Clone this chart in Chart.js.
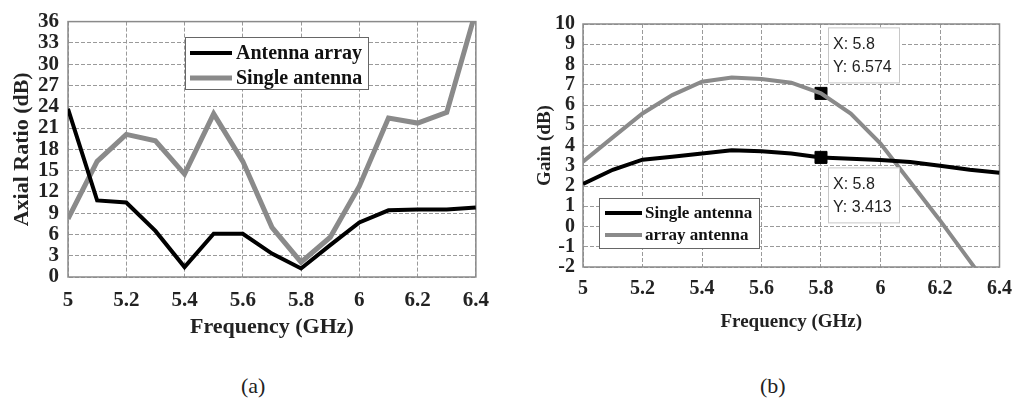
<!DOCTYPE html>
<html>
<head>
<meta charset="utf-8">
<script src="https://cdn.jsdelivr.net/npm/chart.js@4.4.1/dist/chart.umd.min.js"></script>
<style>
    body { margin: 0; background: #fff; width: 1022px; height: 398px; position: relative; overflow: hidden; }
    #wrapA { position: absolute; left: 0; top: 0; width: 500px; height: 345px; }
    #wrapB { position: absolute; left: 510px; top: 0; width: 512px; height: 345px; }
    .cap { position: absolute; top: 373px; line-height: 24px; font: 22px "Liberation Serif", serif; color: #222; }
</style>
</head>
<body>
<div id="wrapA"><canvas id="chartA"></canvas></div>
<div id="wrapB"><canvas id="chartB"></canvas></div>
<div class="cap" style="left:241px">(a)</div>
<div class="cap" style="left:760px">(b)</div>

<script>
// Frequency points (GHz)
const freqs = [5.0, 5.1, 5.2, 5.3, 5.4, 5.5, 5.6, 5.7, 5.8, 5.9, 6.0, 6.1, 6.2, 6.3, 6.4];

// (a) Axial ratio (dB)
const arArray  = [23.7, 10.8, 10.5, 6.5, 1.4, 6.1, 6.1, 3.3, 1.2, 4.5, 7.7, 9.4, 9.5, 9.5, 9.8];
const arSingle = [8.2, 16.3, 20.1, 19.2, 14.5, 23.0, 16.3, 7.0, 2.1, 5.6, 12.8, 22.4, 21.7, 23.2, 37.5];

// (b) Gain (dB)
const gainSingle = [2.1, 2.8, 3.3, 3.44, 3.6, 3.77, 3.72, 3.6, 3.413, 3.35, 3.28, 3.19, 3.0, 2.8, 2.65];
const gainArray  = [3.2, 4.4, 5.58, 6.49, 7.15, 7.36, 7.28, 7.1, 6.574, 5.58, 4.1, 2.2, 0.3, -1.7, -3.7];

// datatips on (b)
const tipFreq = 5.8;
const tipGains = [6.574, 3.413];

// tick values
const xTicks = [5, 5.2, 5.4, 5.6, 5.8, 6, 6.2, 6.4];
const arTicks = [0, 3, 6, 9, 12, 15, 18, 21, 24, 27, 30, 33, 36];
const gainTicks = [-2, -1, 0, 1, 2, 3, 4, 5, 6, 7, 8, 9, 10];

const serif = '"Liberation Serif", "Times New Roman", serif';
const sans = '"Liberation Sans", Arial, sans-serif';
const GRAY = '#8a8a8a';

const toXY = (ys) => freqs.map((f, i) => ({ x: f, y: ys[i] }));

// plot frame, drawn under the lines
const framePlugin = {
    id: 'frame',
    beforeDatasetsDraw(chart) {
        const { ctx, chartArea: a } = chart;
        ctx.save();
        ctx.strokeStyle = '#8a8a8a';
        ctx.lineWidth = 1.5;
        ctx.strokeRect(a.left, a.top, a.right - a.left, a.bottom - a.top);
        ctx.restore();
    }
};

function legendBox(box) {
    return {
        id: 'legendBox',
        afterDraw(chart) {
            const { ctx } = chart;
            ctx.save();
            ctx.fillStyle = '#fff';
            ctx.strokeStyle = '#666';
            ctx.lineWidth = 1;
            ctx.fillRect(box.x, box.y, box.w, box.h);
            ctx.strokeRect(box.x + 0.5, box.y + 0.5, box.w, box.h);
            chart.data.datasets.filter(d => !d.noLegend).forEach((ds, i) => {
                const y = box.y + box.rowTop + i * box.rowGap;
                ctx.strokeStyle = ds.borderColor;
                ctx.lineWidth = ds.borderWidth;
                ctx.beginPath();
                ctx.moveTo(box.x + box.line0, y);
                ctx.lineTo(box.x + box.line1, y);
                ctx.stroke();
                ctx.fillStyle = '#111';
                ctx.font = box.font;
                ctx.textBaseline = 'middle';
                ctx.fillText(ds.label, box.x + box.textX, y + 1);
            });
            ctx.restore();
        }
    };
}

// MATLAB-like datatips on (b)
const tipPlugin = {
    id: 'tips',
    afterDraw(chart) {
        const { ctx } = chart;
        const xs = chart.scales.x, ys = chart.scales.y;
        const offs = [{ dx: 7, dy: -66 }, { dx: 7, dy: 10 }];
        ctx.save();
        tipGains.forEach((g, i) => {
            const px = xs.getPixelForValue(tipFreq) + offs[i].dx;
            const py = ys.getPixelForValue(g) + offs[i].dy;
            ctx.fillStyle = '#fff';
            ctx.strokeStyle = '#c8c8c8';
            ctx.lineWidth = 1;
            ctx.fillRect(px, py, 71, 55);
            ctx.strokeRect(px + 0.5, py + 0.5, 71, 55);
            ctx.fillStyle = '#222';
            ctx.font = '16px ' + sans;
            ctx.textBaseline = 'middle';
            ctx.fillText('X: ' + tipFreq, px + 5, py + 17);
            ctx.fillText('Y: ' + g, px + 5, py + 40);
        });
        ctx.restore();
    }
};

function makeScales(cfg) {
    const grid = { display: true, drawOnChartArea: true, color: '#9a9a9a', lineWidth: 1, drawTicks: false };
    const border = { display: true, color: 'rgba(0,0,0,0)', dash: [4, 2] };
    return {
        x: {
            type: 'linear', min: 5, max: 6.4,
            afterFit: s => { s.height = cfg.xAxisH; },
            afterBuildTicks: s => { s.ticks = xTicks.map(v => ({ value: v })); },
            grid: grid,
            border: border,
            ticks: {
                color: '#222', padding: cfg.xPad, autoSkip: false, maxRotation: 0,
                font: { family: serif, weight: 'bold', size: cfg.tickSize },
                callback: v => String(Math.round(v * 10) / 10)
            },
            title: {
                display: true, text: 'Frequency (GHz)', color: '#222',
                font: { family: serif, weight: 'bold', size: cfg.xTitleSize },
                padding: { top: 0, bottom: cfg.xTitlePad }
            }
        },
        y: {
            type: 'linear', min: cfg.yTicks[0], max: cfg.yTicks[cfg.yTicks.length - 1],
            afterFit: s => { s.width = cfg.yAxisW; },
            afterBuildTicks: s => { s.ticks = cfg.yTicks.map(v => ({ value: v })); },
            grid: grid,
            border: border,
            ticks: {
                color: '#222', padding: cfg.yPad, autoSkip: false,
                font: { family: serif, weight: 'bold', size: cfg.tickSize }
            },
            title: {
                display: true, text: cfg.yTitle, color: '#222',
                font: { family: serif, weight: 'bold', size: cfg.yTitleSize },
                padding: { top: cfg.yTitlePad, bottom: 0 }
            }
        }
    };
}

const baseOpts = {
    responsive: true,
    maintainAspectRatio: false,
    animation: false,
    plugins: { legend: { display: false }, tooltip: { enabled: false } },
    elements: { point: { radius: 0 }, line: { tension: 0 } }
};

new Chart(document.getElementById('chartA'), {
    type: 'line',
    data: {
        datasets: [
            { label: 'Antenna array', data: toXY(arArray), borderColor: '#000', borderWidth: 4 },
            { label: 'Single antenna', data: toXY(arSingle), borderColor: GRAY, borderWidth: 5 }
        ]
    },
    options: {
        ...baseOpts,
        layout: { padding: { top: 18, right: 17, left: 0, bottom: 0 } },
        scales: makeScales({
            yTicks: arTicks, yTitle: 'Axial Ratio (dB)',
            xAxisH: 68, yAxisW: 68, tickSize: 21, xPad: 11, yPad: 9,
            xTitleSize: 22, xTitlePad: 4, yTitleSize: 22, yTitlePad: 9
        })
    },
    plugins: [framePlugin, legendBox({
        x: 185, y: 37, w: 183, h: 52, rowTop: 16, rowGap: 25,
        line0: 5, line1: 47, textX: 51, font: 'bold 20px ' + serif
    })]
});

new Chart(document.getElementById('chartB'), {
    type: 'line',
    data: {
        datasets: [
            { label: 'Single antenna', data: toXY(gainSingle), borderColor: '#000', borderWidth: 4 },
            { label: 'array antenna', data: toXY(gainArray), borderColor: GRAY, borderWidth: 4 },
            {
                label: 'datatips', noLegend: true, showLine: false,
                data: tipGains.map(g => ({ x: tipFreq, y: g })),
                pointStyle: 'rect', pointRadius: 8.5,
                pointBackgroundColor: '#000', pointBorderColor: '#000', borderColor: '#000'
            }
        ]
    },
    options: {
        ...baseOpts,
        layout: { padding: { top: 24, right: 16, left: 0, bottom: 0 } },
        scales: makeScales({
            yTicks: gainTicks, yTitle: 'Gain (dB)',
            xAxisH: 78, yAxisW: 73, tickSize: 20, xPad: 10, yPad: 8,
            xTitleSize: 19, xTitlePad: 12, yTitleSize: 19, yTitlePad: 24
        })
    },
    plugins: [framePlugin, tipPlugin, legendBox({
        x: 89, y: 198, w: 160, h: 50, rowTop: 15, rowGap: 22,
        line0: 6, line1: 43, textX: 46, font: 'bold 17px ' + serif
    })]
});
</script>
</body>
</html>
